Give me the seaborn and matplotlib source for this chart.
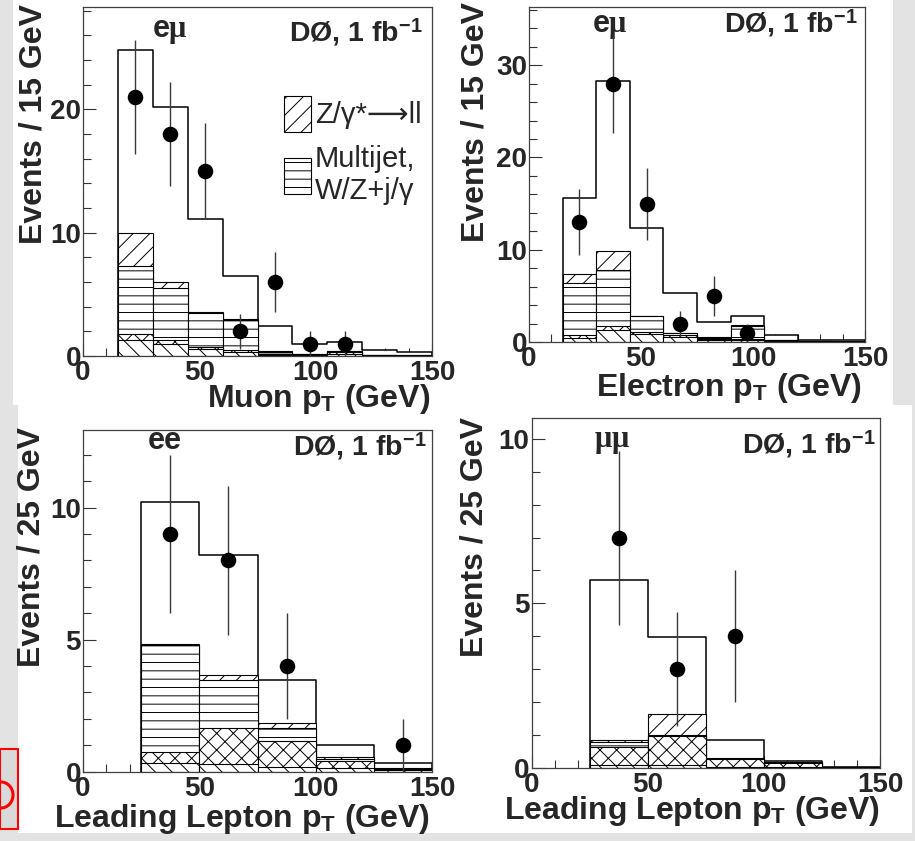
import numpy as np
import pandas as pd
import matplotlib
matplotlib.use("Agg")
import matplotlib.pyplot as plt
import seaborn as sns
from matplotlib.patches import Patch, Rectangle, Ellipse
from matplotlib.ticker import MultipleLocator

# ---------------- data ----------------
# top-left: e-mu channel, muon pT, 15 GeV bins
mu_edges = [15, 30, 45, 60, 75, 90, 105, 120, 135, 150]
mu_diboson = [1.3, 1.0, 0.55, 0.3, 0.1, 0.05, 0.15, 0.03, 0.02]
mu_ztautau = [0.45, 0.3, 0.2, 0.18, 0.1, 0.05, 0.15, 0.03, 0.02]
mu_multijet = [5.55, 4.2, 2.7, 2.47, 0.15, 0.05, 0.1, 0.04, 0.02]
mu_zll = [2.7, 0.5, 0.1, 0.05, 0.03, 0.02, 0.02, 0.02, 0.01]
mu_total = [24.8, 20.2, 11.1, 6.5, 2.4, 0.95, 1.1, 0.5, 0.35]
mu_data_x = [22.5, 37.5, 52.5, 67.5, 82.5, 97.5, 112.5]
mu_data_y = [21, 18, 15, 2, 6, 1, 1]
mu_data_err = [4.6, 4.2, 3.9, 1.4, 2.4, 1.0, 1.0]

# top-right: e-mu channel, electron pT, 15 GeV bins
el_edges = [15, 30, 45, 60, 75, 90, 105, 120, 135, 150]
el_diboson = [0.45, 1.3, 0.85, 0.55, 0.25, 0.2, 0.1, 0.05, 0.03]
el_ztautau = [0.35, 0.45, 0.25, 0.2, 0.1, 0.1, 0.05, 0.01, 0.01]
el_multijet = [5.6, 6.0, 1.7, 0.2, 0.1, 1.45, 0.05, 0.02, 0.01]
el_zll = [0.95, 2.15, 0.05, 0.05, 0.05, 0.05, 0.02, 0.01, 0.01]
el_total = [15.6, 28.3, 12.4, 5.3, 2.15, 2.85, 0.8, 0.25, 0.2]
el_data_x = [22.5, 37.5, 52.5, 67.5, 82.5, 97.5]
el_data_y = [13, 28, 15, 2, 5, 1]
el_data_err = [3.6, 5.3, 3.9, 1.4, 2.2, 1.0]

# bottom-left: ee channel, leading lepton pT, 25 GeV bins
ee_edges = [25, 50, 75, 100, 125, 150]
ee_diboson = [0.34, 0.28, 0.19, 0.13, 0.05]
ee_ztautau = [0.39, 1.37, 0.99, 0.29, 0.05]
ee_multijet = [4.07, 1.83, 0.47, 0.05, 0.02]
ee_zll = [0.02, 0.17, 0.19, 0.1, 0.02]
ee_total = [10.2, 8.2, 3.48, 1.03, 0.32]
ee_data_x = [37.5, 62.5, 87.5, 137.5]
ee_data_y = [9, 8, 4, 1]
ee_data_err = [3.0, 2.83, 2.0, 1.0]

# bottom-right: mu-mu channel, leading lepton pT, 25 GeV bins
mm_edges = [25, 50, 75, 100, 125, 150]
mm_diboson = [0.08, 0.08, 0.03, 0.02, 0.005]
mm_ztautau = [0.54, 0.89, 0.23, 0.13, 0.005]
mm_multijet = [0.15, 0.02, 0.01, 0.01, 0.002]
mm_zll = [0.07, 0.64, 0.01, 0.02, 0.003]
mm_total = [5.71, 3.97, 0.84, 0.19, 0.02]
mm_data_x = [37.5, 62.5, 87.5]
mm_data_y = [7, 3, 4]
mm_data_err = [2.65, 1.73, 2.0]

legend_labels = ["Z/γ*⟶ll", "Multijet,\nW/Z+j/γ"]

# ---------------- style ----------------
sns.set_style("ticks")
plt.rcParams.update({
    "font.family": ["Liberation Sans", "DejaVu Sans"],
    "font.weight": "bold",
    "axes.labelweight": "bold",
    "mathtext.fontset": "custom",
    "mathtext.rm": "Liberation Serif",
    "mathtext.it": "Liberation Serif:italic",
    "mathtext.bf": "Liberation Sans:bold",
    "mathtext.sf": "Liberation Sans",
    "hatch.linewidth": 0.7,
})

W, H = 915, 841
fig = plt.figure(figsize=(W / 100, H / 100), dpi=100, facecolor="#e3e3e3")


def px_rect(x0, y0, x1, y1):
    return [x0 / W, 1 - y1 / H, (x1 - x0) / W, (y1 - y0) / H]


# white pads behind the panels
for (x0, y0, x1, y1) in [(13, 0, 893, 405), (18, 405, 912, 833)]:
    fig.patches.append(Rectangle((x0 / W, 1 - y1 / H), (x1 - x0) / W, (y1 - y0) / H,
                                 transform=fig.transFigure, facecolor="white",
                                 edgecolor="none", zorder=-5))

# small red-framed box at lower left
box = Rectangle((0, 1 - 829 / H), 18 / W, 80 / H, transform=fig.transFigure,
                facecolor="#d9d9d9", edgecolor="red", linewidth=1.5, zorder=2)
fig.patches.append(box)
ring = Ellipse((1 / W, 1 - 795 / H), 24 / W, 26 / H, transform=fig.transFigure,
               facecolor="none", edgecolor="red", linewidth=2.2, zorder=3)
ring.set_clip_path(box)
fig.patches.append(ring)


def hist_layer(ax, centers, weights, edges, **kws):
    df = pd.DataFrame({"pt": centers, "w": np.asarray(weights, float)})
    sns.histplot(data=df, x="pt", weights="w", bins=list(edges), ax=ax, **kws)


def draw_panel(ax, edges, diboson, ztautau, multijet, zll, total,
               dx, dy, derr, ytop, ymaj, ymin, xlabel, ylabel,
               xl_pos, yl_pos, chan, chan_pos, do_pos):
    e = np.asarray(edges, float)
    centers = 0.5 * (e[:-1] + e[1:])
    layer1 = np.asarray(diboson, float)
    layer2 = layer1 + np.asarray(ztautau, float)
    layer3 = layer2 + np.asarray(multijet, float)
    layer4 = layer3 + np.asarray(zll, float)

    hist_layer(ax, centers, total, edges, element="step", fill=True,
               facecolor="white", edgecolor="black", linewidth=1.1)
    for cum, hatch in [(layer4, "//"), (layer3, "--"), (layer2, "xx"), (layer1, "\\\\")]:
        hist_layer(ax, centers, cum, edges, element="bars", fill=True,
                   facecolor="white", edgecolor="black", linewidth=0.8, hatch=hatch)

    ax.errorbar(dx, dy, yerr=derr, fmt="none", ecolor="#3a3a3a",
                elinewidth=1.0, capsize=0, zorder=4)
    sns.scatterplot(x=dx, y=dy, color="black", s=125, linewidth=0,
                    ax=ax, zorder=5, legend=False)

    ax.set_xlim(0, 150)
    ax.set_ylim(0, ytop)
    ax.xaxis.set_major_locator(MultipleLocator(50))
    ax.xaxis.set_minor_locator(MultipleLocator(10))
    ax.yaxis.set_major_locator(MultipleLocator(ymaj))
    ax.yaxis.set_minor_locator(MultipleLocator(ymin))
    ax.tick_params(which="both", direction="in", top=False, right=False,
                   width=0.8, color="#333333")
    ax.tick_params(which="major", length=9, labelsize=20)
    ax.tick_params(axis="x", which="major", pad=3)
    ax.tick_params(axis="y", which="major", pad=1.5)
    ax.tick_params(which="minor", length=5.5)
    for sp in ax.spines.values():
        sp.set_visible(True)
        sp.set_color("#404040")
        sp.set_linewidth(0.9)

    ax.set_xlabel(xlabel, fontsize=23, loc="right")
    ax.xaxis.set_label_coords(*xl_pos)
    ax.set_ylabel(ylabel, fontsize=23, loc="top")
    ax.yaxis.set_label_coords(*yl_pos)

    ax.text(chan_pos[0], chan_pos[1], chan, transform=ax.transAxes,
            fontsize=22, ha="left", va="baseline")
    ax.text(do_pos[0], do_pos[1], r"DØ, 1 fb$^{\mathbf{-1}}$", transform=ax.transAxes,
            fontsize=20.5, ha="right", va="baseline")


ax1 = fig.add_axes(px_rect(83, 7, 432, 356))
ax2 = fig.add_axes(px_rect(529, 7, 865, 342))
ax3 = fig.add_axes(px_rect(83, 430, 432, 771.7))
ax4 = fig.add_axes(px_rect(531.7, 418.3, 880, 767.7))

draw_panel(ax1, mu_edges, mu_diboson, mu_ztautau, mu_multijet, mu_zll, mu_total,
           mu_data_x, mu_data_y, mu_data_err, 28.3, 10, 2,
           r"Muon $\mathbf{p}_{\mathbf{T}}$ (GeV)", "Events / 15 GeV",
           (0.994, -0.075), (-0.10, 1.01), r"e$\mathrm{\mu}$", (0.198, 0.914), (0.974, 0.903))
draw_panel(ax2, el_edges, el_diboson, el_ztautau, el_multijet, el_zll, el_total,
           el_data_x, el_data_y, el_data_err, 36.3, 10, 2,
           r"Electron $\mathbf{p}_{\mathbf{T}}$ (GeV)", "Events / 15 GeV",
           (0.991, -0.086), (-0.116, 1.015), r"e$\mathrm{\mu}$", (0.1875, 0.925), (0.979, 0.925))
draw_panel(ax3, ee_edges, ee_diboson, ee_ztautau, ee_multijet, ee_zll, ee_total,
           ee_data_x, ee_data_y, ee_data_err, 12.94, 5, 1,
           r"Leading Lepton $\mathbf{p}_{\mathbf{T}}$ (GeV)", "Events / 25 GeV",
           (0.994, -0.089), (-0.106, 1.009), "ee", (0.186, 0.944), (0.986, 0.927))
draw_panel(ax4, mm_edges, mm_diboson, mm_ztautau, mm_multijet, mm_zll, mm_total,
           mm_data_x, mm_data_y, mm_data_err, 10.63, 5, 1,
           r"Leading Lepton $\mathbf{p}_{\mathbf{T}}$ (GeV)", "Events / 25 GeV",
           (1.0, -0.074), (-0.12, 1.004), r"$\mathrm{\mu\mu}$", (0.179, 0.918), (0.988, 0.90))

handles = [Patch(facecolor="white", edgecolor="black", hatch="//", linewidth=0.8, label=legend_labels[0]),
           Patch(facecolor="white", edgecolor="black", hatch="--", linewidth=0.8, label=legend_labels[1])]
ax1.legend(handles=handles, loc="upper left", bbox_to_anchor=(0.575, 0.745), frameon=False,
           borderpad=0, borderaxespad=0, handlelength=0.92, handleheight=1.5,
           handletextpad=0.15, labelspacing=0.45,
           prop={"family": ["Liberation Sans", "DejaVu Sans"], "weight": "normal", "size": 21})

fig.savefig("out.png", dpi=100, facecolor=fig.get_facecolor())
